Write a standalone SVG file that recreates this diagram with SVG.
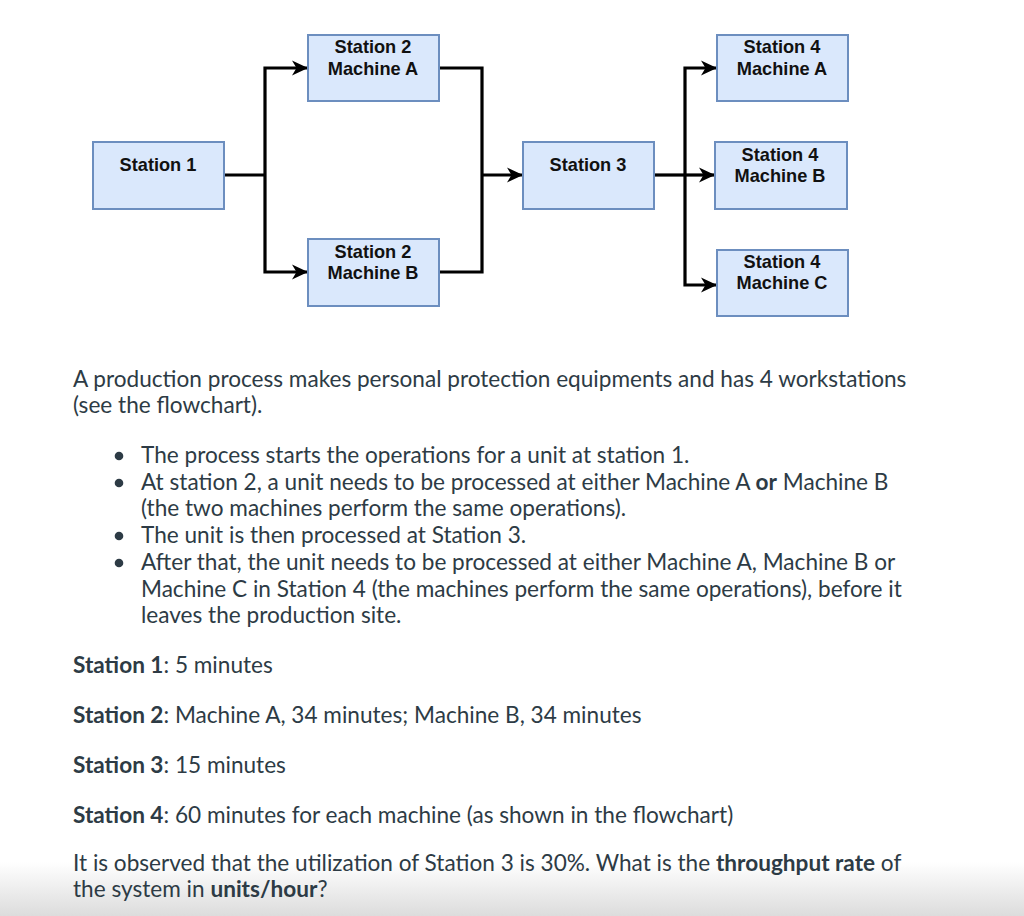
<svg xmlns="http://www.w3.org/2000/svg" width="1024" height="916" viewBox="0 0 1024 916">
<defs>
<style>
.box{fill:#dae8fc;stroke:#6c8ebf;stroke-width:2}
.lbl{font-family:"Liberation Sans",Arial,sans-serif;font-weight:bold;font-size:18.2px;fill:#111;text-anchor:middle}
.con{fill:none;stroke:#000;stroke-width:3.2;stroke-linejoin:miter}
.t{font-family:Lato,"Open Sans",sans-serif;font-size:22.6px;fill:#2d3b45}
.b{font-weight:bold}
</style>
<marker id="ah" markerUnits="userSpaceOnUse" markerWidth="18" markerHeight="18" refX="15" refY="9" orient="auto">
<path d="M0,1.5 L16,9 L0,16.5 L4.5,9 Z" fill="#000"/>
</marker>
<linearGradient id="fade" x1="0" y1="0" x2="0" y2="1">
<stop offset="0" stop-color="#ffffff"/>
<stop offset="1" stop-color="#dcdcdc"/>
</linearGradient>
</defs>
<rect width="1024" height="916" fill="#fff"/>
<rect x="0" y="862" width="1024" height="54" fill="url(#fade)"/>

<g id="connectors">
<path class="con" d="M224,175 H265"/>
<path class="con" d="M265,175 V68 H307" marker-end="url(#ah)"/>
<path class="con" d="M265,175 V272 H307" marker-end="url(#ah)"/>
<path class="con" d="M439,68 H482 V272 H439"/>
<path class="con" d="M482,175 H522" marker-end="url(#ah)"/>
<path class="con" d="M654,175 H685"/>
<path class="con" d="M685,175 V68 H716" marker-end="url(#ah)"/>
<path class="con" d="M685,175 H714" marker-end="url(#ah)"/>
<path class="con" d="M685,175 V285 H716" marker-end="url(#ah)"/>
</g>

<g id="station1"><rect class="box" x="93" y="142" width="131" height="67"/><text class="lbl" x="158" y="171">Station 1</text></g>
<g id="station2a"><rect class="box" x="308" y="35" width="131" height="66"/><text class="lbl" x="373" y="53">Station 2</text><text class="lbl" x="373" y="75">Machine A</text></g>
<g id="station2b"><rect class="box" x="308" y="239" width="131" height="67"/><text class="lbl" x="373" y="258">Station 2</text><text class="lbl" x="373" y="279">Machine B</text></g>
<g id="station3"><rect class="box" x="523" y="142" width="131" height="67"/><text class="lbl" x="588" y="171">Station 3</text></g>
<g id="station4a"><rect class="box" x="717" y="35" width="131" height="66"/><text class="lbl" x="782" y="53">Station 4</text><text class="lbl" x="782" y="75">Machine A</text></g>
<g id="station4b"><rect class="box" x="715" y="142" width="132" height="67"/><text class="lbl" x="780" y="161">Station 4</text><text class="lbl" x="780" y="182">Machine B</text></g>
<g id="station4c"><rect class="box" x="717" y="250" width="131" height="66"/><text class="lbl" x="782" y="268">Station 4</text><text class="lbl" x="782" y="289">Machine C</text></g>

<g id="text">
<text class="t" x="73" y="387">A production process makes personal protection equipments and has 4 workstations</text>
<text class="t" x="73" y="413">(see the flowchart).</text>
<circle cx="119" cy="456" r="4.3" fill="#2d3b45"/>
<circle cx="119" cy="483" r="4.3" fill="#2d3b45"/>
<circle cx="119" cy="536" r="4.3" fill="#2d3b45"/>
<circle cx="119" cy="563" r="4.3" fill="#2d3b45"/>
<text class="t" x="141" y="463">The process starts the operations for a unit at station 1.</text>
<text class="t" x="141" y="490">At station 2, a unit needs to be processed at either Machine A <tspan class="b">or</tspan> Machine B</text>
<text class="t" x="141" y="516">(the two machines perform the same operations).</text>
<text class="t" x="141" y="543">The unit is then processed at Station 3.</text>
<text class="t" x="141" y="570">After that, the unit needs to be processed at either Machine A, Machine B or</text>
<text class="t" x="141" y="597">Machine C in Station 4 (the machines perform the same operations), before it</text>
<text class="t" x="141" y="623">leaves the production site.</text>
<text class="t" x="73" y="673"><tspan class="b">Station 1</tspan>: 5 minutes</text>
<text class="t" x="73" y="723"><tspan class="b">Station 2</tspan>: Machine A, 34 minutes; Machine B, 34 minutes</text>
<text class="t" x="73" y="773"><tspan class="b">Station 3</tspan>: 15 minutes</text>
<text class="t" x="73" y="823"><tspan class="b">Station 4</tspan>: 60 minutes for each machine (as shown in the flowchart)</text>
<text class="t" x="73" y="871">It is observed that the utilization of Station 3 is 30%. What is the <tspan class="b">throughput rate</tspan> of</text>
<text class="t" x="73" y="897">the system in <tspan class="b">units/hour</tspan>?</text>
</g>
</svg>
